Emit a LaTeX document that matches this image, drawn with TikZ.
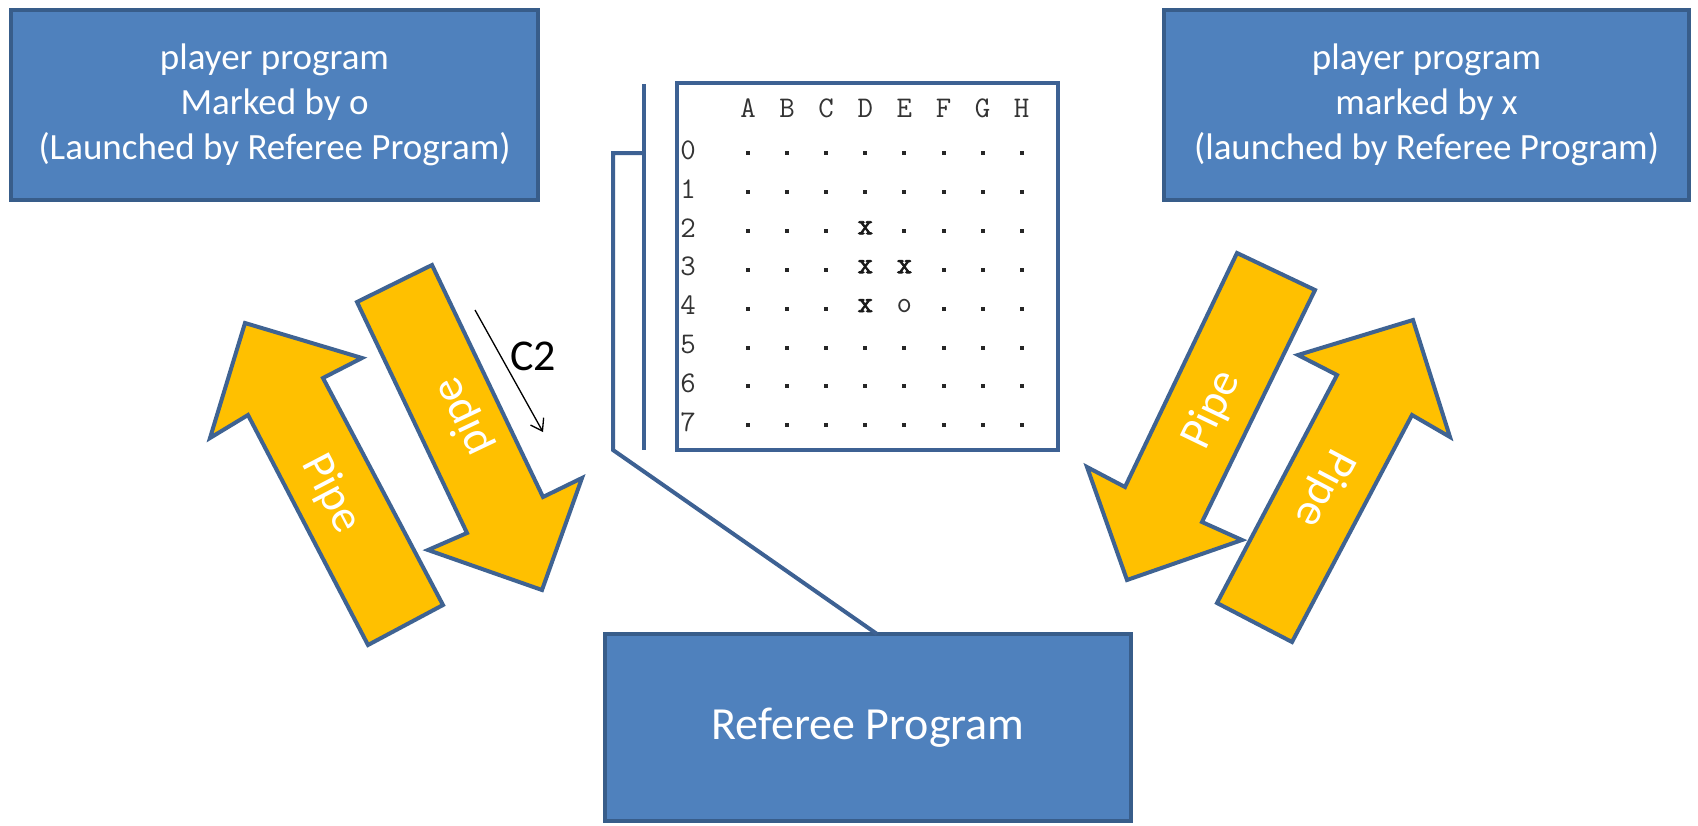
\documentclass[tikz,border=0pt]{standalone}
\usepackage{fontspec}
\setmainfont{Carlito}
\newfontfamily\boldtt[FakeBold=2.5]{Latin Modern Mono}
\usetikzlibrary{arrows.meta}
\definecolor{boxfill}{HTML}{4F81BD}
\definecolor{boxline}{HTML}{385D8A}
\definecolor{pipefill}{HTML}{FFC000}
\definecolor{pipeline}{HTML}{3F6392}
\definecolor{brk}{HTML}{3D6193}
\begin{document}
\begin{tikzpicture}[x=1pt,y=-1pt,
  prog/.style={draw=boxline, fill=boxfill, line width=4pt, text=white, align=center, inner sep=0pt},
  pipeshape/.style={draw=pipeline, fill=pipefill, line width=4pt, line join=miter},
  pipetext/.style={text=white, font=\fontsize{46}{50}\selectfont, inner sep=0pt},
  cell/.style={font=\ttfamily\fontsize{30}{30}\selectfont, inner sep=0pt, text=black!80},
  markcell/.style={font=\boldtt\fontsize{30}{30}\selectfont, inner sep=0pt, text=black!90},
  brkline/.style={draw=brk, line width=4pt}]
\useasboundingbox (0,0) rectangle (1698,825);

% player boxes
\node[prog, minimum width=527pt, minimum height=190pt, font=\fontsize{37}{45}\selectfont] (po) at (274.5,105)
  {player program\\Marked by o\\(Launched by Referee Program)};
\node[prog, minimum width=525pt, minimum height=190pt, font=\fontsize{37}{45}\selectfont] (px) at (1426.5,105)
  {player program\\marked by x\\(launched by Referee Program)};
% referee box
\node[prog, minimum width=526pt, minimum height=187pt, font=\fontsize{46}{55}\selectfont] (ref) at (868,727.5)
  {Referee Program};

% board
\node[draw=brk, line width=4pt, fill=white, minimum width=381pt, minimum height=367pt, inner sep=0pt] (board) at (867.5,266.5) {};
\foreach \c [count=\i from 0] in {A,B,C,D,E,F,G,H}
  \node[cell] (col\c) at ({748+39.1*\i},108) {\c};
\foreach \r in {0,...,7}
  \node[cell] (row\r) at (688,{150+38.9*\r}) {\r};
\foreach \r in {0,...,7}{
  \foreach \i in {0,...,7}{
    \pgfmathtruncatemacro\myskip{((\i==3) && (\r>=2) && (\r<=4)) || ((\i==4) && ((\r==3) || (\r==4))) ? 1 : 0}
    \ifnum\myskip=0
      \fill[black!85] ({748+39.1*\i-2},{150+38.9*\r+1}) rectangle ++(4,4);
    \fi
  }
}
\node[markcell] (m1) at ({748+39.1*3},{150+38.9*2}) {x};
\node[markcell] (m2) at ({748+39.1*3},{150+38.9*3}) {x};
\node[markcell] (m3) at ({748+39.1*4},{150+38.9*3}) {x};
\node[markcell] (m4) at ({748+39.1*3},{150+38.9*4}) {x};
\node[cell] (m5) at ({748+39.1*4},{150+38.9*4}) {o};

% bracket callout
\coordinate (b1) at (644,84);
\coordinate (b2) at (644,450);
\draw[brkline] (b1) -- (b2);
\coordinate (k1) at (644,153);
\coordinate (k2) at (613,153);
\coordinate (k3) at (613,450);
\coordinate (k4) at (877,634);
\draw[brkline, line join=miter] (k1) -- (k2) -- (k3) -- (k4);

% left pipes
\draw[pipeshape] (368,645) -- (443,605) -- (323,378) -- (362,358) -- (245,323) -- (210,438) -- (248,415) -- cycle;
\node[pipetext, rotate=-62.4] (pL1) at (331,494) {Pipe};
\draw[pipeshape] (357,302) -- (432,265) -- (543,497) -- (582,478) -- (542,590) -- (428,550) -- (467,533) -- cycle;
\node[pipetext, rotate=115.5] (pL2) at (463,417) {pipe};

% right pipes
\draw[pipeshape] (1237,253) -- (1315,290) -- (1202,522) -- (1242,540) -- (1127,580) -- (1087,467) -- (1125,487) -- cycle;
\node[pipetext, rotate=64.2] (pR1) at (1212,410) {Pipe};
\draw[pipeshape] (1217,603) -- (1292,642) -- (1412,415) -- (1450,437) -- (1413,320) -- (1298,355) -- (1337,375) -- cycle;
\node[pipetext, rotate=-117.8] (pR2) at (1324,488) {Pipe};

% C2 annotation
\coordinate (c2a) at (475,310);
\coordinate (c2b) at (543,432);
\draw[line width=1.3pt, -{Straight Barb[length=11pt,width=15pt]}] (c2a) -- (c2b);
\node[font=\fontsize{44}{50}\selectfont, inner sep=0pt] (c2) at (533,356) {C2};
\end{tikzpicture}
\end{document}
